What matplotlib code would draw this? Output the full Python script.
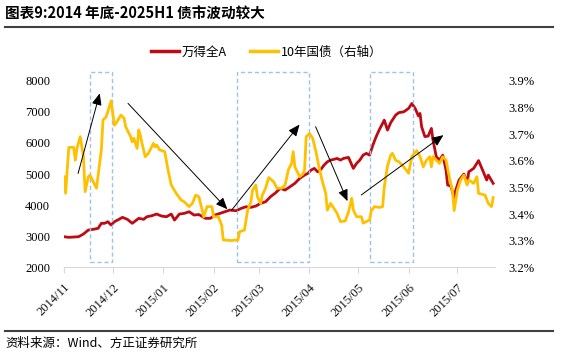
import pandas as pd
import matplotlib
matplotlib.use('Agg')
import matplotlib.pyplot as plt
from matplotlib.patches import Rectangle
from matplotlib.lines import Line2D

plt.rcParams['font.family'] = ['Noto Sans CJK SC', 'DejaVu Sans']

# 数据（按图读取，横轴为距 2014-11-01 的天数）
start = pd.Timestamp('2014-11-01')
end_day = 265

stock_days = [0, 3, 9, 12, 15, 18, 21, 23, 25, 27,
              29, 31, 33, 36, 39, 42, 46, 49, 51, 54,
              57, 60, 63, 66, 68, 71, 74, 77, 80, 83,
              87, 90, 93, 96, 99, 102, 106, 109, 112, 115,
              118, 121, 124, 127, 130, 133, 136, 139, 142, 145,
              148, 150, 152, 154, 156, 158, 160, 162, 164, 166,
              168, 170, 172, 175, 178, 180, 182, 184, 186, 188,
              190, 192, 194, 196, 197, 199, 201, 204, 206, 209,
              212, 214, 216, 218, 219, 220, 222, 224, 226, 227,
              229, 231, 233, 235, 236, 238, 240, 241, 243, 246,
              248, 249, 252, 255, 258, 260, 261, 264]
stock = [2988, 2968, 2988, 3074, 3203, 3225, 3257, 3418, 3418, 3469,
         3363, 3469, 3523, 3610, 3546, 3418, 3578, 3546, 3629, 3661,
         3716, 3652, 3629, 3716, 3523, 3716, 3738, 3790, 3684, 3700,
         3578, 3578, 3684, 3738, 3790, 3844, 3822, 3899, 3950, 3931,
         3973, 4059, 4111, 4271, 4390, 4541, 4486, 4592, 4701, 4862,
         4967, 5022, 5128, 5182, 5073, 5150, 5288, 5394, 5449, 5471,
         5503, 5449, 5503, 5536, 5182, 5343, 5449, 5609, 5664, 5609,
         5930, 6197, 6428, 6627, 6732, 6412, 6652, 6893, 6973, 6999,
         7108, 7268, 7108, 6867, 6947, 6517, 6203, 6219, 6466, 6091,
         5555, 5449, 5609, 5128, 4647, 4614, 4229, 4486, 4807, 5000,
         4711, 5073, 5182, 5433, 5064, 4807, 4967, 4701]

bond_days = [0, 1, 3, 6, 7, 8, 10, 12, 13, 15,
             16, 20, 23, 24, 26, 29, 31, 32, 35, 37,
             38, 41, 42, 43, 45, 46, 47, 48, 50, 52,
             55, 56, 57, 59, 62, 64, 66, 69, 72, 74,
             77, 79, 81, 83, 85, 86, 88, 91, 92, 95,
             97, 98, 103, 107, 108, 111, 113, 115, 116, 118,
             119, 121, 122, 124, 126, 129, 131, 134, 136, 138,
             140, 141, 142, 145, 147, 148, 149, 151, 153, 155,
             157, 159, 161, 162, 164, 166, 168, 170, 173, 175,
             177, 178, 180, 183, 184, 186, 188, 189, 191, 194,
             196, 197, 199, 201, 202, 204, 206, 209, 212, 214,
             217, 219, 221, 223, 225, 226, 227, 229, 231, 233,
             235, 237, 239, 240, 242, 244, 246, 248, 249, 252,
             254, 255, 259, 261, 263, 264]
bond = [3.540, 3.478, 3.650, 3.650, 3.602, 3.646, 3.690, 3.615, 3.484, 3.540,
        3.546, 3.497, 3.640, 3.752, 3.765, 3.824, 3.733, 3.740, 3.771, 3.759,
        3.727, 3.690, 3.671, 3.684, 3.646, 3.715, 3.696, 3.665, 3.615, 3.628,
        3.665, 3.652, 3.659, 3.640, 3.634, 3.565, 3.509, 3.478, 3.453, 3.446,
        3.428, 3.440, 3.471, 3.465, 3.415, 3.390, 3.428, 3.428, 3.390, 3.390,
        3.359, 3.303, 3.301, 3.303, 3.334, 3.340, 3.415, 3.446, 3.490, 3.509,
        3.465, 3.440, 3.471, 3.497, 3.537, 3.521, 3.497, 3.497, 3.509, 3.565,
        3.590, 3.634, 3.577, 3.540, 3.550, 3.565, 3.690, 3.702, 3.684, 3.634,
        3.572, 3.521, 3.478, 3.415, 3.440, 3.422, 3.403, 3.372, 3.374, 3.408,
        3.459, 3.415, 3.390, 3.390, 3.366, 3.372, 3.378, 3.412, 3.428, 3.425,
        3.428, 3.500, 3.580, 3.621, 3.628, 3.602, 3.596, 3.577, 3.553, 3.617,
        3.638, 3.615, 3.577, 3.602, 3.615, 3.577, 3.615, 3.602, 3.590, 3.615,
        3.602, 3.540, 3.484, 3.413, 3.490, 3.528, 3.546, 3.509, 3.528, 3.515,
        3.540, 3.478, 3.471, 3.440, 3.428, 3.462]

# 虚线框（天数区间）和箭头（起点 -> 终点，左轴坐标）
box_spans = [(15.9, 29.4), (106.6, 150.5), (188.0, 214.8)]
box_ylim = (2180, 8270)
arrows = [((8.7, 5020), (22.0, 7590)),
          ((39.4, 7270), (100.5, 3870)),
          ((103.1, 3840), (144.9, 6590)),
          ((154.8, 6520), (174.4, 4130)),
          ((182.9, 4330), (233.4, 6250))]

red = '#BE0A12'
yellow = '#FFC000'

fig = plt.figure(figsize=(5.61, 3.6), dpi=100)
ax = fig.add_axes([0.114, 0.257, 0.768, 0.519])
ax2 = ax.twinx()

ax.plot(stock_days, stock, color=red, lw=2.0, label='万得全A')
ax2.plot(bond_days, bond, color=yellow, lw=2.0, label='10年国债（右轴）')

ax.set_xlim(0, end_day)
ax.set_ylim(2000, 8000)
ax2.set_ylim(3.2, 3.9)
ax.set_yticks(range(2000, 8001, 1000))
ax2.set_yticks([3.2, 3.3, 3.4, 3.5, 3.6, 3.7, 3.8, 3.9])
ax2.set_yticklabels(['%.1f%%' % v for v in ax2.get_yticks()])

months = pd.date_range('2014-11-01', '2015-07-01', freq='MS')
ax.set_xticks([(m - start).days for m in months])
ax.set_xticklabels([m.strftime('%Y/%m') for m in months], rotation=45,
                   ha='right', rotation_mode='anchor',
                   family='Liberation Serif', fontsize=9, color='#111111')

for a in (ax, ax2):
    for s in a.spines.values():
        s.set_visible(False)
ax.spines['bottom'].set_visible(True)
ax.spines['bottom'].set_color('#D9D9D9')
ax.tick_params(axis='x', length=4, color='#D9D9D9', pad=6)
ax.tick_params(axis='y', length=0, pad=10)
ax2.tick_params(axis='y', length=0, pad=10)
for lab in ax.get_yticklabels() + ax2.get_yticklabels():
    lab.set_family('Liberation Serif')
    lab.set_fontsize(9)

for x0, x1 in box_spans:
    ax2.add_patch(Rectangle((x0, box_ylim[0]), x1 - x0, box_ylim[1] - box_ylim[0],
                            transform=ax.transData, fill=False, ls=(0, (3, 2)),
                            lw=1.0, ec='#9DC3E6', clip_on=False))

for (x0, y0), (x1, y1) in arrows:
    ax2.annotate('', xy=(x1, y1), xytext=(x0, y0), xycoords=ax.transData,
                 textcoords=ax.transData,
                 arrowprops=dict(arrowstyle='-|>,head_length=0.7,head_width=0.3',
                                 color='black', lw=0.7, shrinkA=0, shrinkB=0))

handles = [Line2D([], [], color=red, lw=2.5), Line2D([], [], color=yellow, lw=2.5)]
fig.legend(handles, ['万得全A', '10年国债（右轴）'], loc='center',
           bbox_to_anchor=(0.475, 0.855), ncol=2, frameon=False, fontsize=9,
           handlelength=2.3, handletextpad=0.2, columnspacing=1.8)

fig.text(0.009, 0.962, '图表9:2014 年底-2025H1 债市波动较大', fontsize=10.5,
         va='center', ha='left', weight='bold')
fig.add_artist(Line2D([0.009, 0.986], [0.925, 0.925], color='#404040', lw=1.5))
fig.add_artist(Line2D([0.009, 0.986], [0.081, 0.081], color='#404040', lw=1.5))
fig.text(0.009, 0.047, '资料来源：Wind、方正证券研究所', fontsize=9,
         va='center', ha='left', style='italic')

fig.savefig('out.png', dpi=100)
